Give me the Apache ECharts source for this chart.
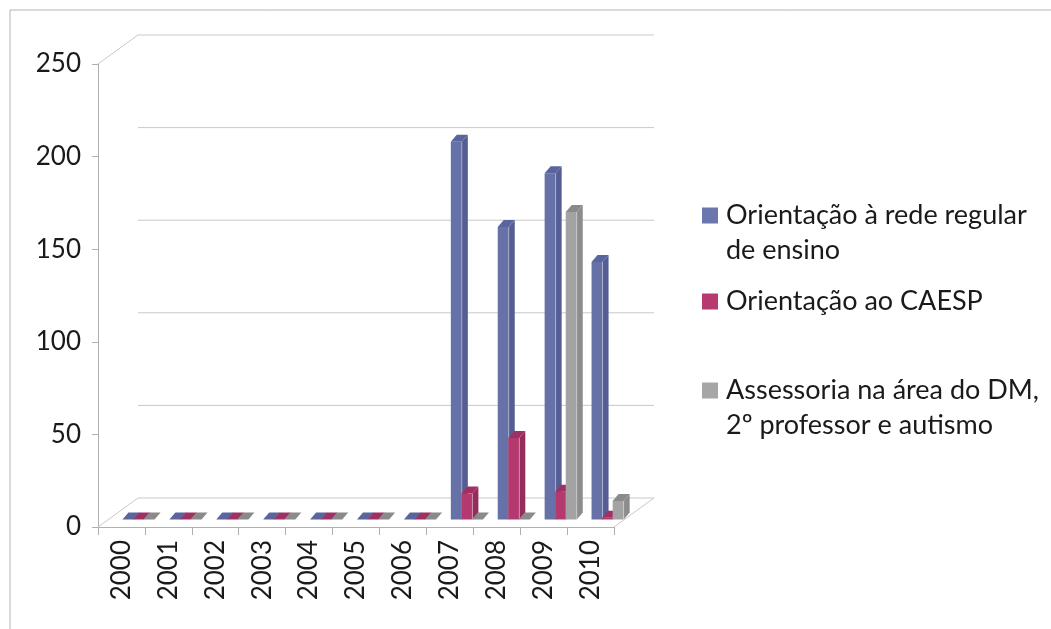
<!DOCTYPE html>
<html>
<head>
<meta charset="utf-8">
<script src="https://cdn.jsdelivr.net/npm/echarts@6/dist/echarts.min.js"></script>
<style>
  html, body { margin: 0; padding: 0; background: #fff; }
  #main { width: 1051px; height: 629px; }
</style>
</head>
<body>
<div id="main"></div>
<script>
// categorias e valores
var years = ['2000', '2001', '2002', '2003', '2004', '2005', '2006', '2007', '2008', '2009', '2010'];
var orientacaoRede = [0, 0, 0, 0, 0, 0, 0, 204, 158, 187, 139];
var orientacaoCaesp = [0, 0, 0, 0, 0, 0, 0, 14, 44, 15, 1];
var assessoria = [0, 0, 0, 0, 0, 0, 0, 0, 0, 166, 10];
var yTicks = [0, 50, 100, 150, 200, 250];
var seriesNames = ['Orientação à rede regular de ensino', 'Orientação ao CAESP', 'Assessoria na área do DM, 2º professor e autismo'];
var legendText = {
  'Orientação à rede regular de ensino': '\u00a0\nOrientação à rede regular\nde ensino',
  'Orientação ao CAESP': 'Orientação ao CAESP',
  'Assessoria na área do DM, 2º professor e autismo': '\u00a0\nAssessoria na área do DM,\n2º professor e autismo'
};

var FONT = 'Lato';
var WALL_DX = 40, WALL_DY = -29;   // profundidade da parede de fundo
var BAR_DX = 6, BAR_DY = -7;       // profundidade de cada barra
var BASE_SHIFT = 7.5;

var palettes = [
  { front: '#6671a8', side: '#545e95', top: '#5a659d', legend: '#6a76ad' },
  { front: '#b3396f', side: '#962c5c', top: '#9f3063', legend: '#b8396f' },
  { front: '#a3a3a3', side: '#8c8c8c', top: '#8a8a8a', legend: '#a6a6a6' }
];

function wallRender(params, api) {
  var cs = params.coordSys;
  var v = api.value(1);
  var y = api.coord([0, v])[1];
  var left = cs.x, right = cs.x + cs.width;
  var style = { stroke: '#c9c9c9', lineWidth: 1 };
  var children = [{
    type: 'line',
    shape: { x1: left + WALL_DX, y1: y + WALL_DY, x2: right + WALL_DX, y2: y + WALL_DY },
    style: style
  }];
  if (v === 0 || v === yTicks[yTicks.length - 1]) {
    children.push({
      type: 'line',
      shape: { x1: left, y1: y, x2: left + WALL_DX, y2: y + WALL_DY },
      style: style
    });
  }
  if (v === 0) {
    children.push({
      type: 'line',
      shape: { x1: right, y1: y, x2: right + WALL_DX, y2: y + WALL_DY },
      style: style
    });
  }
  return { type: 'group', children: children };
}

function barRender(sIdx) {
  var pal = palettes[sIdx];
  return function (params, api) {
    var i = api.value(0), v = api.value(1);
    var p0 = api.coord([i, 0]);
    var pv = api.coord([i, v]);
    var band = api.size([1, 0])[0];
    var w = band * 0.235;
    var step = band * 0.225;
    var x0 = p0[0] + 1 + sIdx * step;
    var x1 = x0 + w;
    var yb = p0[1] - BASE_SHIFT;
    var h = p0[1] - pv[1];
    var yt = yb - h;
    var children = [];
    if (h > 0.5) {
      children.push({
        type: 'rect',
        shape: { x: x0, y: yt, width: w, height: h },
        style: { fill: pal.front }
      });
      children.push({
        type: 'polygon',
        shape: { points: [[x1, yb], [x1 + BAR_DX, yb + BAR_DY], [x1 + BAR_DX, yt + BAR_DY], [x1, yt]] },
        style: { fill: pal.side }
      });
      children.push({
        type: 'line',
        shape: { x1: x1, y1: yb, x2: x1, y2: yt },
        style: { stroke: 'rgba(255,255,255,0.35)', lineWidth: 1 }
      });
    }
    children.push({
      type: 'polygon',
      shape: { points: [[x0, yt], [x1, yt], [x1 + BAR_DX, yt + BAR_DY], [x0 + BAR_DX, yt + BAR_DY]] },
      style: { fill: pal.top }
    });
    return { type: 'group', children: children };
  };
}

function toData(arr) {
  return arr.map(function (v, i) { return [i, v]; });
}

var chart = echarts.init(document.getElementById('main'));

var legendTops = [163, 284, 338];
var legends = seriesNames.map(function (n, k) {
  return {
    data: [n],
    left: 702,
    top: legendTops[k],
    orient: 'vertical',
    icon: 'rect',
    itemWidth: 16,
    itemHeight: 16,
    padding: 0,
    selectedMode: false,
    formatter: function (name) { return legendText[name]; },
    textStyle: { fontFamily: FONT, fontSize: 27, lineHeight: 35, color: '#1a1a1a', padding: [0, 0, 0, 3] }
  };
});

var barSeries = [orientacaoRede, orientacaoCaesp, assessoria].map(function (arr, k) {
  return {
    name: seriesNames[k],
    type: 'custom',
    renderItem: barRender(k),
    data: toData(arr),
    itemStyle: { color: palettes[k].legend },
    encode: { x: 0, y: 1 },
    z: 3 + k,
    silent: true
  };
});

var option = {
  backgroundColor: '#fff',
  animation: false,
  graphic: [{
    type: 'rect',
    shape: { x: 10, y: 10, width: 1100, height: 700 },
    style: { fill: 'none', stroke: '#b3b3b3', lineWidth: 1 },
    z: -10
  }],
  legend: legends,
  grid: { left: 98, top: 64, width: 516, height: 463 },
  xAxis: {
    type: 'category',
    data: years,
    boundaryGap: true,
    axisLine: { lineStyle: { color: '#b0b0b0' } },
    axisTick: { show: true, alignWithLabel: false, length: 8, lineStyle: { color: '#b0b0b0' } },
    axisLabel: { rotate: 90, margin: 13, fontFamily: FONT, fontSize: 26, color: '#1a1a1a' }
  },
  yAxis: {
    type: 'value',
    min: 0,
    max: 250,
    interval: 50,
    splitLine: { show: false },
    axisLine: { show: true, lineStyle: { color: '#b0b0b0' } },
    axisTick: { show: true, length: 6, lineStyle: { color: '#b0b0b0' } },
    axisLabel: { margin: 17, fontFamily: FONT, fontSize: 26, color: '#1a1a1a' }
  },
  series: [{
    type: 'custom',
    renderItem: wallRender,
    data: yTicks.map(function (v) { return [0, v]; }),
    encode: { x: 0, y: 1 },
    silent: true,
    z: 1
  }].concat(barSeries)
};

chart.setOption(option);
</script>
</body>
</html>
